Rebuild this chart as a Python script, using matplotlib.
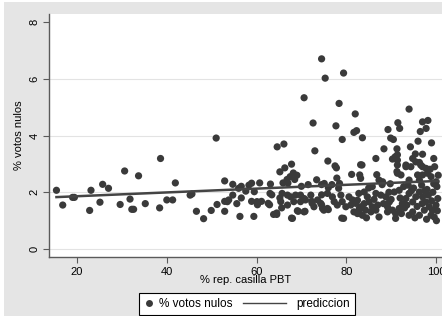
import matplotlib
matplotlib.use('Agg')
import matplotlib.pyplot as plt
from matplotlib.lines import Line2D
from matplotlib.patches import Rectangle
from matplotlib.legend_handler import HandlerLine2D

plt.rcParams['font.family'] = ['Liberation Sans', 'DejaVu Sans']

# % rep. casilla PBT
rep_pbt = [
    15.4, 16.8, 19.0, 19.4, 22.8, 23.1, 25.1, 25.7, 27.0, 29.6, 30.6, 31.8, 32.2, 32.6,
    33.7, 35.2, 38.4, 38.6, 40.0, 41.3, 41.9, 45.2, 45.6, 46.6, 48.2, 49.9, 51.0, 51.2,
    52.9, 52.9, 52.9, 53.5, 53.8, 54.7, 54.7, 55.6, 56.0, 56.3, 56.6, 56.6, 57.6, 58.3,
    58.9, 58.9, 59.4, 59.5, 60.1, 60.2, 60.7, 61.1, 62.6, 62.9, 63.0, 63.1, 63.4, 63.8,
    64.5, 64.5, 64.6, 65.2, 65.4, 65.6, 65.9, 66.1, 66.3, 65.2,
    67.0, 67.8, 68.2, 67.5, 68.5, 69.0, 66.8,
    65.7, 66.9, 67.6, 68.7, 69.8, 70.6, 68.3, 69.8, 70.9, 72.4, 72.8, 74.3, 74.7, 75.8,
    75.0, 76.9, 77.3, 78.0, 79.1, 79.9, 80.6, 81.4, 82.1, 82.9, 79.4, 69.1, 70.6, 68.0,
    66.9, 73.6, 72.1, 75.8, 78.8, 81.0, 81.7, 82.9, 67.8, 69.3, 70.8, 72.3, 74.5, 76.0,
    79.0, 74.5,
    70.0, 71.5, 73.4, 74.5, 75.1, 76.0, 76.8, 77.9, 78.5, 78.3, 81.2, 77.5, 77.8, 75.9,
    73.0, 70.6, 72.6, 74.5, 75.3, 77.7, 78.4, 79.1, 79.4, 81.7, 82.3, 82.0, 83.2,
    83.6, 89.3, 91.5, 91.9, 94.0, 97.0, 98.2, 97.8, 96.5, 89.9, 90.5, 96.0, 99.0, 94.3,
    88.4, 91.3, 95.4, 97.0, 91.4, 86.6, 90.3, 91.4, 90.9, 99.5, 83.5, 94.8, 95.5, 94.4,
    96.3, 97.0, 97.8, 98.7, 91.4, 93.3, 91.3, 86.8, 83.0, 83.2, 87.3, 88.1, 91.4, 92.2,
    93.3, 96.6, 98.1, 97.0, 95.9, 98.9, 100.0, 96.3, 94.0, 85.0, 88.0,
    82.8, 84.0, 84.7, 85.1, 85.8, 85.5, 84.3, 83.2, 82.5, 83.6, 86.6, 87.7, 88.8, 89.6,
    89.2, 90.3, 91.0, 91.8, 92.5, 93.3, 94.0, 90.7, 91.8, 94.8, 95.5, 96.3, 97.0, 97.7,
    98.5, 99.2, 100.0, 100.4, 97.4, 96.3, 94.8, 98.9, 99.6, 87.3, 91.0, 94.0, 82.5, 89.2,
    86.6,
    92.8, 93.8, 95.0, 96.8, 98.0, 99.3, 100.2, 99.7, 100.5, 93.0, 95.8, 96.9, 98.3, 99.0,
    100.3, 92.0, 90.0, 88.3, 87.0, 84.5, 85.8, 89.8, 99.5, 97.5, 94.5, 93.5, 92.3, 95.3,
    97.9, 100.1, 89.5, 86.2, 84.0,
]

# % votos nulos
votos_nulos = [
    2.07, 1.55, 1.82, 1.82, 1.36, 2.07, 1.65, 2.28, 2.14, 1.57, 2.75, 1.76, 1.40, 1.40,
    2.58, 1.60, 1.45, 3.19, 1.73, 1.73, 2.33, 1.90, 1.94, 1.33, 1.07, 1.36, 3.91, 1.57,
    2.40, 1.68, 1.33, 1.67, 1.73, 2.28, 1.90, 1.60, 2.14, 1.15, 2.21, 1.80, 2.04, 2.25,
    2.32, 1.68, 1.15, 2.02, 1.67, 1.56, 2.33, 1.68, 1.61, 1.56, 1.96, 2.29, 1.91, 1.22,
    1.22, 1.27, 3.60, 2.72, 1.67, 1.45, 2.33, 3.70, 2.86, 1.80,
    2.32, 2.99, 2.68, 2.55, 2.45, 2.60, 2.45,
    1.96, 1.90, 1.84, 1.90, 1.90, 1.78, 1.67, 1.67, 1.73, 1.61, 1.49, 1.61, 1.43, 1.43,
    1.37, 1.84, 1.67, 1.55, 1.67, 1.49, 1.84, 1.73, 1.61, 1.43, 1.08, 1.35, 1.31, 1.08,
    1.55, 1.73, 1.90, 1.96, 1.90, 1.55, 1.31, 1.26, 1.09, 1.33, 1.33, 1.68, 1.56, 1.39,
    1.09, 1.91,
    2.21, 2.27, 2.44, 2.27, 2.31, 2.16, 2.27, 2.50, 2.31, 2.14, 2.63, 2.93, 2.86, 3.10,
    3.46, 5.33, 4.44, 6.70, 6.02, 4.34, 5.13, 3.86, 6.20, 4.11, 4.17, 4.76, 2.97,
    3.92, 4.21, 4.45, 4.25, 4.93, 4.48, 4.53, 4.25, 4.14, 3.91, 3.86, 3.80, 3.74, 3.60,
    3.53, 3.53, 3.35, 3.34, 3.32, 3.19, 3.17, 3.13, 3.25, 3.19, 2.96, 3.19, 3.07, 2.90,
    3.05, 2.90, 2.84, 2.81, 2.96, 2.96, 2.73, 2.62, 2.61, 2.49, 2.43, 2.37, 2.67, 2.61,
    2.90, 2.96, 2.67, 2.61, 2.61, 2.55, 2.37, 2.43, 2.43, 2.15, 2.27,
    1.96, 2.01, 1.84, 1.66, 1.49, 1.31, 1.37, 1.49, 1.72, 1.19, 1.96, 1.90, 1.84, 1.66,
    1.49, 1.37, 1.25, 1.43, 1.60, 1.78, 1.96, 2.01, 2.07, 1.66, 1.84, 2.01, 1.84, 1.66,
    1.49, 1.37, 1.55, 1.78, 1.37, 1.19, 1.31, 1.19, 1.13, 1.13, 1.08, 1.19, 1.25, 1.31,
    1.37,
    2.20, 2.25, 2.15, 2.25, 2.10, 2.00, 2.20, 2.90, 2.60, 1.45, 1.50, 1.60, 1.90, 1.70,
    1.35, 1.80, 1.75, 1.60, 1.55, 1.10, 2.20, 2.30, 2.30, 2.05, 2.05, 1.55, 1.25, 1.10,
    1.05, 1.00, 2.00, 1.75, 1.60,
]

# linear prediction (end points)
pred_x = [15.4, 100.5]
pred_y = [1.83, 2.40]

x_ticks = [20, 40, 60, 80, 100]
y_ticks = [0, 2, 4, 6, 8]

dot_color = '#3a3a3a'
axis_color = '#5a5a5a'
bg_color = '#e5e5e5'


class LongLineHandler(HandlerLine2D):
    # line handle drawn longer than the shared handle box
    def create_artists(self, legend, orig_handle, xdescent, ydescent, width, height, fontsize, trans):
        y = height / 2.0 - ydescent
        line = Line2D([width - 35, width - 4], [y, y], color=orig_handle.get_color(),
                      linewidth=orig_handle.get_linewidth())
        line.set_transform(trans)
        return [line]


fig = plt.figure(figsize=(4.42, 3.16), dpi=100, facecolor='white')
fig.patches.append(Rectangle((4 / 442, 0), 1, 1 - 2 / 316, transform=fig.transFigure,
                             facecolor=bg_color, edgecolor='none', zorder=-10))

ax = fig.add_axes([49 / 442, 1 - 257 / 316, 393 / 442, 243 / 316])
ax.set_facecolor('white')

ax.scatter(rep_pbt, votos_nulos, s=27, color=dot_color, edgecolors='none', zorder=3)
ax.plot(pred_x, pred_y, color='#444444', linewidth=1.8, zorder=4)

ax.set_xlim(13.74, 101.34)
ax.set_ylim(-0.28, 8.28)
ax.set_xticks(x_ticks)
ax.set_yticks(y_ticks)
ax.set_yticklabels([str(v) for v in y_ticks], rotation=90, va='center')

for v in y_ticks[:-1]:
    ax.axhline(v, color='#e3e3e3', linewidth=0.8, zorder=1)

for side in ['top', 'right']:
    ax.spines[side].set_visible(False)
for side in ['left', 'bottom']:
    ax.spines[side].set_color(axis_color)
    ax.spines[side].set_linewidth(1.0)

ax.tick_params(axis='both', direction='out', length=4, width=0.8, color=axis_color,
               labelsize=8, labelcolor='black', pad=3)

ax.set_xlabel('% rep. casilla PBT', fontsize=8, labelpad=-1)
ax.set_ylabel('% votos nulos', fontsize=8, labelpad=4)

dot_handle = Line2D([], [], linestyle='none', marker='o', markersize=5,
                    color=dot_color, markeredgewidth=0)
line_handle = Line2D([], [], color='#444444', linewidth=1.0)
leg = fig.legend([dot_handle, line_handle], ['% votos nulos', 'prediccion'],
                 loc='center', bbox_to_anchor=(247 / 442, 1 - 304 / 316), ncol=2,
                 fontsize=8.5, frameon=True, fancybox=False, edgecolor='black',
                 facecolor='white', framealpha=1, handlelength=0.8, handletextpad=0.4,
                 columnspacing=4.2, borderpad=0.45,
                 handler_map={line_handle: LongLineHandler()})
leg.get_frame().set_linewidth(0.8)

fig.savefig('out.png', dpi=100, facecolor=fig.get_facecolor())
